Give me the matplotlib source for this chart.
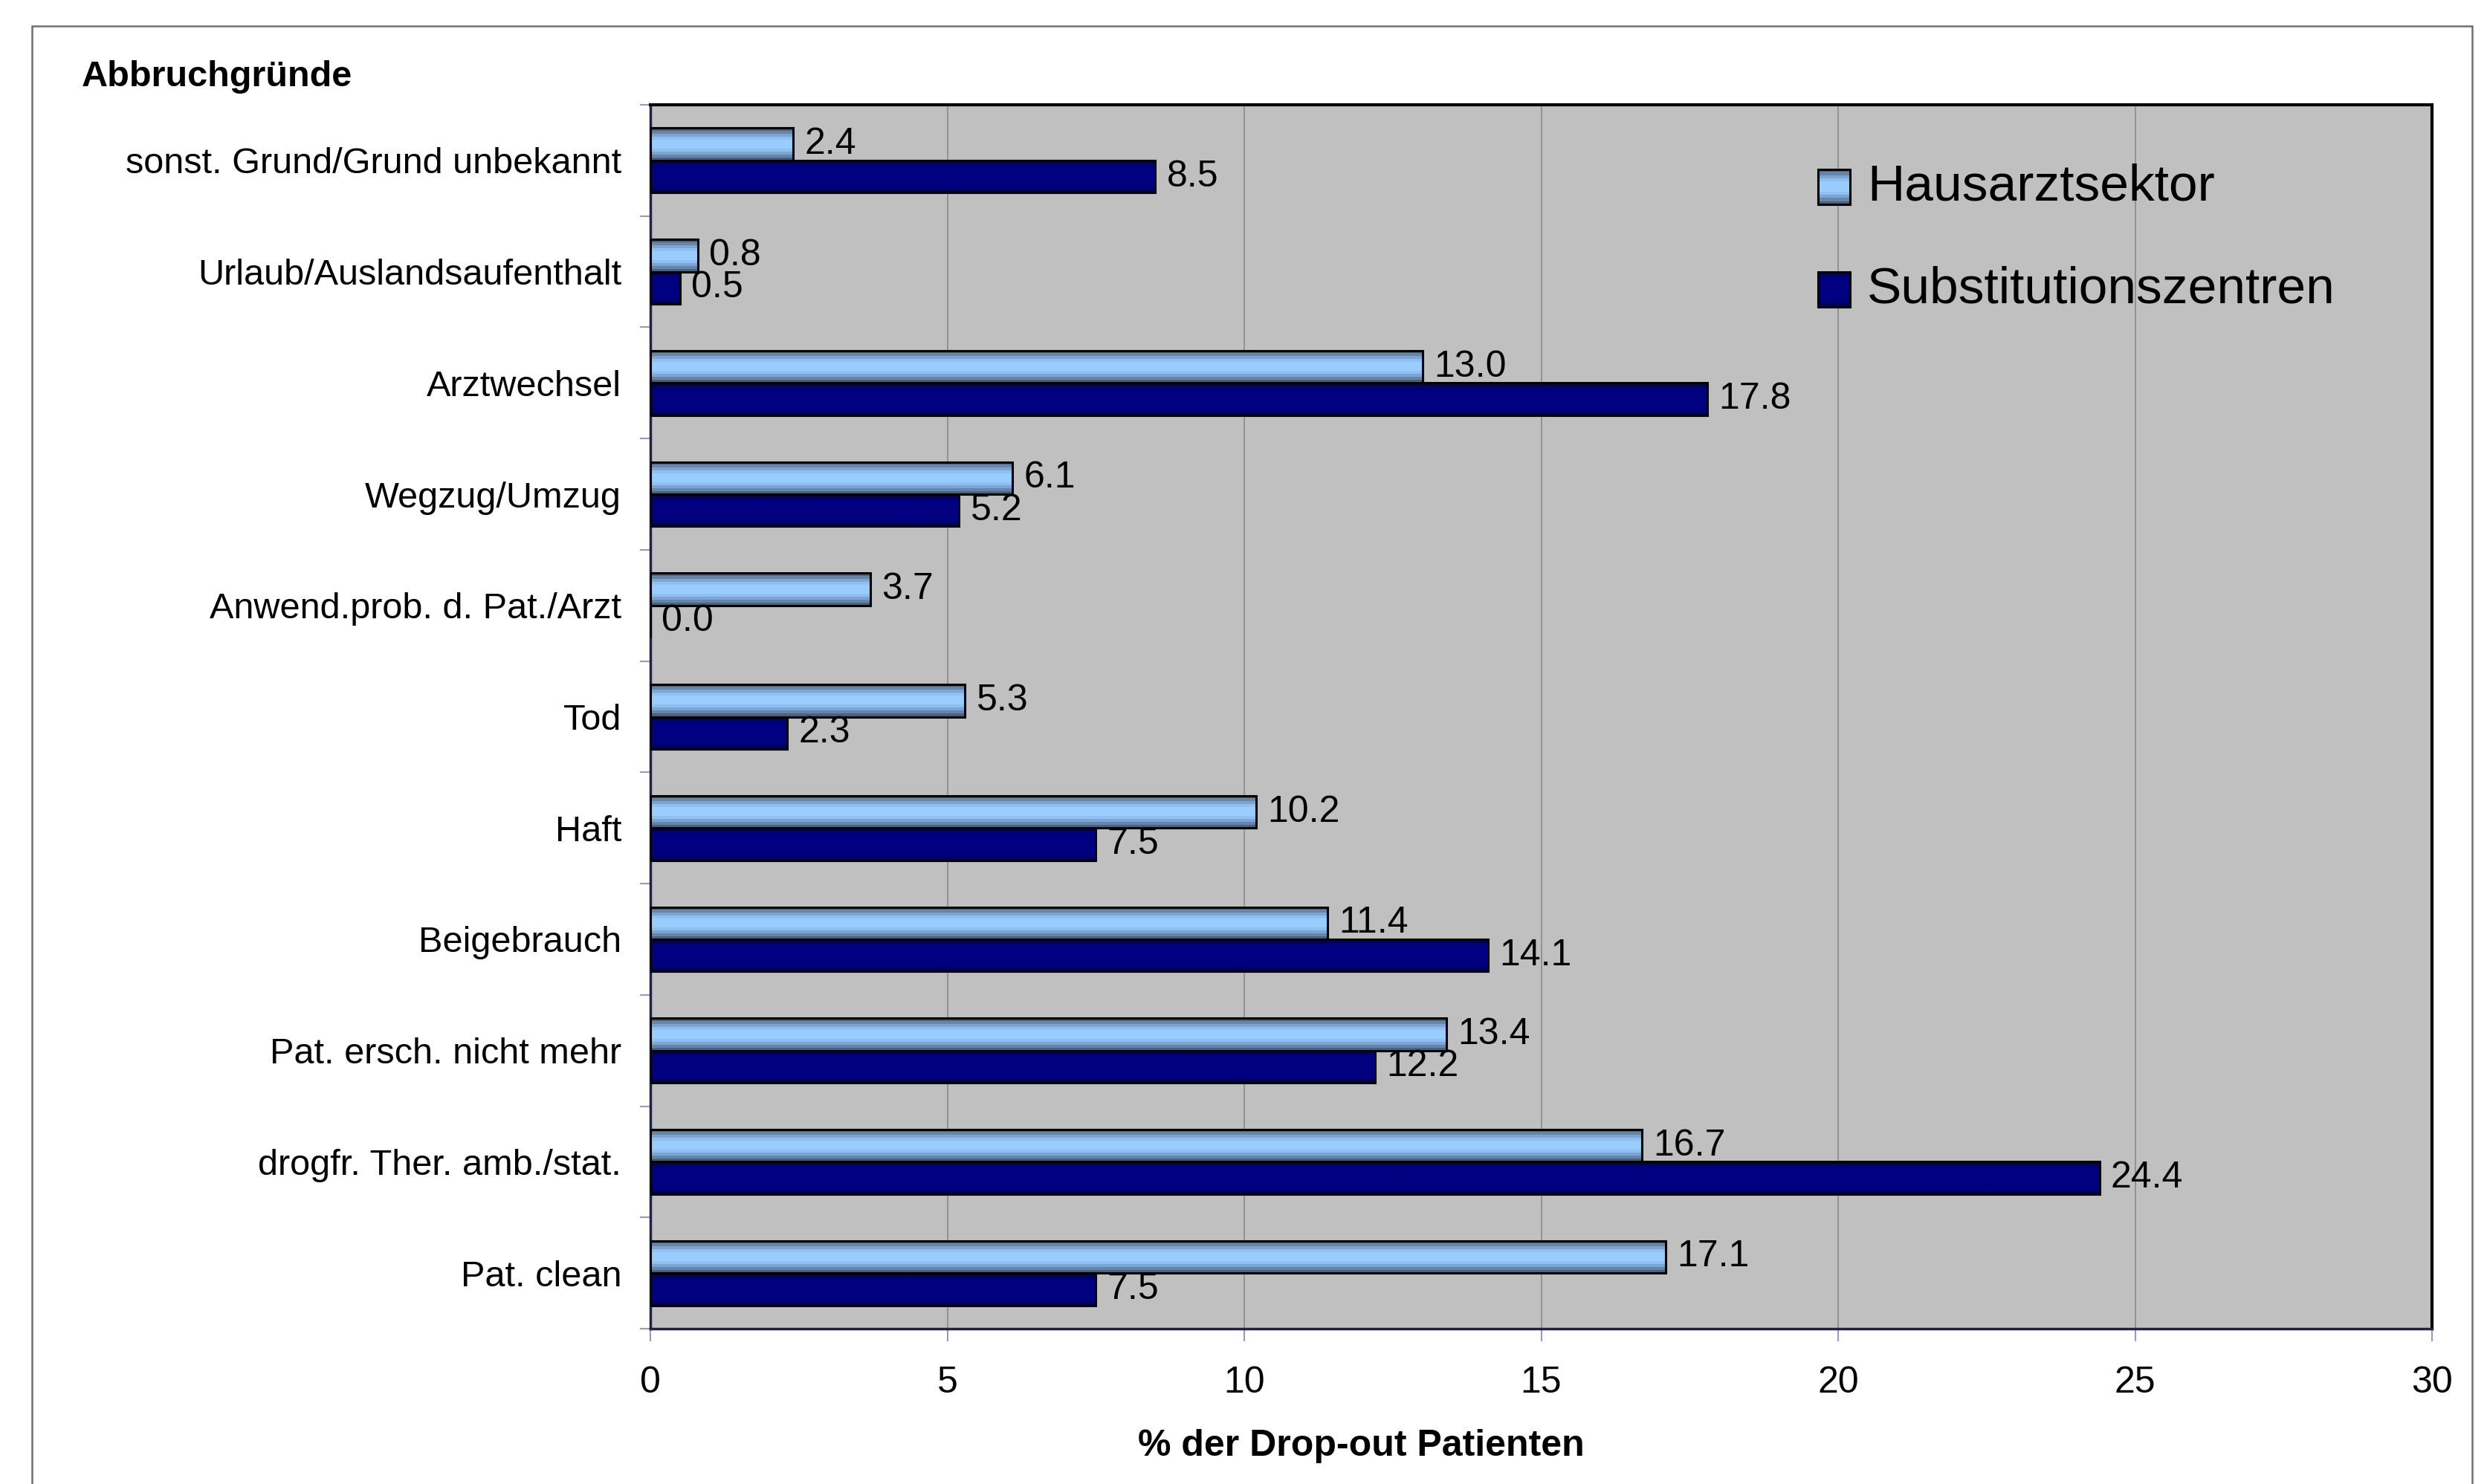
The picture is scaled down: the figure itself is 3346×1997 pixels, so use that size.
import numpy as np
import matplotlib
matplotlib.use("Agg")
import matplotlib.pyplot as plt
from matplotlib.colors import LinearSegmentedColormap
from matplotlib.patches import Rectangle

plt.rcParams['font.family'] = ['Liberation Sans', 'DejaVu Sans']

# Abbruchgruende, von oben nach unten
reasons = ['sonst. Grund/Grund unbekannt', 'Urlaub/Auslandsaufenthalt', 'Arztwechsel',
           'Wegzug/Umzug', 'Anwend.prob. d. Pat./Arzt', 'Tod', 'Haft', 'Beigebrauch',
           'Pat. ersch. nicht mehr', 'drogfr. Ther. amb./stat.', 'Pat. clean']
hausarzt = [2.4, 0.8, 13.0, 6.1, 3.7, 5.3, 10.2, 11.4, 13.4, 16.7, 17.1]
substitution = [8.5, 0.5, 17.8, 5.2, 0.0, 2.3, 7.5, 14.1, 12.2, 24.4, 7.5]
series_names = ['Hausarztsektor', 'Substitutionszentren']
xticks = [0, 5, 10, 15, 20, 25, 30]

light_cmap = LinearSegmentedColormap.from_list('light', ['#4c6280', '#6b8cb2', '#86b2e2', '#99ccff'])
dark_cmap = LinearSegmentedColormap.from_list('dark', ['#000033', '#000066', '#000080'])

# gestufter Verlauf fuer helle Balken, weicher fuer dunkle
prof = 1 - np.abs(np.linspace(-1, 1, 11))
light_grad = np.clip(prof * 1.4, 0, 1)[:, None]
prof2 = 1 - np.abs(np.linspace(-1, 1, 64)) ** 2
dark_grad = np.clip(prof2 * 1.6, 0, 1)[:, None]

W, H = 3346, 1997
fig = plt.figure(figsize=(W / 100, H / 100), dpi=100)
ax = fig.add_axes([875 / W, 1 - 1788 / H, (3272 - 875) / W, (1788 - 141) / H])
ax.set_facecolor('#c0c0c0')

n = len(reasons)
y = np.arange(n)
bh = 0.29


def grad_bar(yc, val, grad, cmap, interp):
    rect = ax.barh(yc, val, height=bh, color='none', edgecolor='black',
                   linewidth=2.2, zorder=4)[0]
    if val > 0:
        im = ax.imshow(grad, cmap=cmap, vmin=0, vmax=1, aspect='auto',
                       interpolation=interp,
                       extent=[0, val, yc + bh / 2, yc - bh / 2], zorder=3)
        im.set_clip_path(rect)
    return rect


for i in range(n):
    grad_bar(y[i] - bh / 2, hausarzt[i], light_grad, light_cmap, 'nearest')
    grad_bar(y[i] + bh / 2, substitution[i], dark_grad, dark_cmap, 'bilinear')
    ax.annotate(f'{hausarzt[i]:.1f}', (hausarzt[i], y[i] - bh / 2), xytext=(11, 0),
                textcoords='offset points', ha='left', va='center', fontsize=36, zorder=5)
    ax.annotate(f'{substitution[i]:.1f}', (substitution[i], y[i] + bh / 2), xytext=(11, 0),
                textcoords='offset points', ha='left', va='center', fontsize=36, zorder=5)

ax.set_xlim(0, 30)
ax.set_ylim(n - 0.5, -0.5)
ax.set_xticks(xticks)
ax.set_xticklabels([str(t) for t in xticks], fontsize=36)
ax.set_yticks(y)
ax.set_yticklabels(reasons, fontsize=35)
ax.set_yticks(np.arange(n + 1) - 0.5, minor=True)
ax.tick_params(axis='y', which='major', length=0, pad=28)
ax.tick_params(axis='y', which='minor', length=10, width=1.5, color='#9a9ac0', direction='out')
ax.tick_params(axis='x', length=12, width=1.5, color='#9a9ac0', direction='out', pad=24)
ax.grid(axis='x', color='#8a8a8a', linewidth=1.2, zorder=1)
ax.set_axisbelow(True)

for side in ['top', 'right']:
    ax.spines[side].set_color('black')
    ax.spines[side].set_linewidth(3)
for side in ['left', 'bottom']:
    ax.spines[side].set_color('#222240')
    ax.spines[side].set_linewidth(2.5)

# Legende
leg_y = [0.933, 0.849]
for gy, grad, cmap, interp, name in zip(leg_y, [light_grad, dark_grad], [light_cmap, dark_cmap],
                                        ['nearest', 'bilinear'], series_names):
    sq = Rectangle((0.6555, gy - 0.0143), 0.0178, 0.0286, transform=ax.transAxes,
                   facecolor='none', edgecolor='black', linewidth=2.2, zorder=6)
    ax.add_patch(sq)
    im = ax.imshow(grad, cmap=cmap, vmin=0, vmax=1, aspect='auto', interpolation=interp,
                   extent=[0.6555, 0.6733, gy - 0.0143, gy + 0.0143], transform=ax.transAxes,
                   zorder=5)
    im.set_clip_path(sq)
    ax.text(0.683, gy, name, transform=ax.transAxes, fontsize=50, ha='left', va='center', zorder=6)

ax.set_xlim(0, 30)
ax.set_ylim(n - 0.5, -0.5)

fig.text(110 / W, 1 - 104 / H, 'Abbruchgründe', fontsize=35, fontweight='bold',
         ha='left', va='center')
fig.text(1831 / W, 1 - 1946 / H, '% der Drop-out Patienten', fontsize=36, fontweight='bold',
         ha='center', va='center')

# grauer Rahmen um das Diagramm
fig.patches.append(Rectangle((43 / W, -0.01), (3326 - 43) / W, 1.01 - 35 / H,
                             transform=fig.transFigure, facecolor='none',
                             edgecolor='#707070', linewidth=1.8))

fig.savefig('out.png', dpi=100)
